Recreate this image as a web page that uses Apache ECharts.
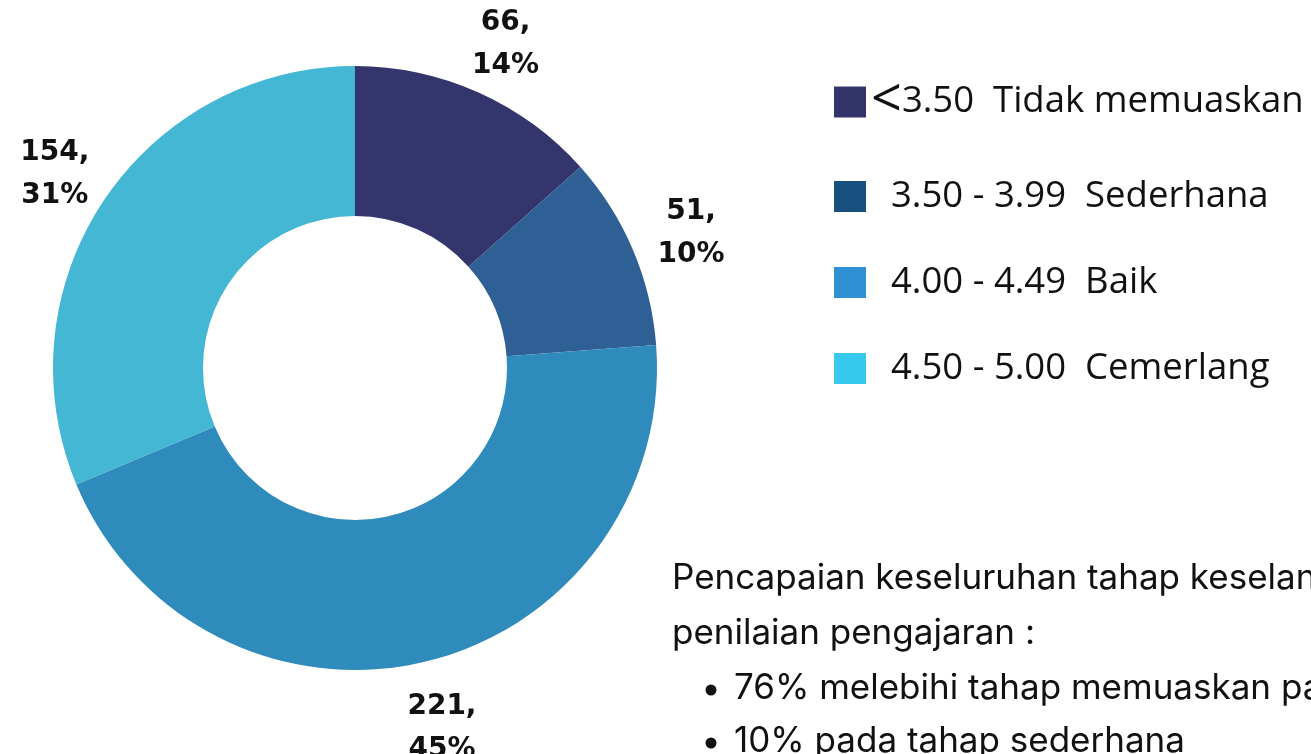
<!doctype html>
<html>
<head>
<meta charset="UTF-8">
<title>Pencapaian penilaian pengajaran</title>
<script src="https://cdn.jsdelivr.net/npm/echarts@6/dist/echarts.min.js"></script>
<style>
  html, body { margin: 0; padding: 0; background: #fff; }
  #chart { width: 1311px; height: 754px; }
</style>
</head>
<body>
<div id="chart"></div>
<script>
// data
var categories = ['<3.50 Tidak memuaskan', '3.50 - 3.99 Sederhana', '4.00 - 4.49 Baik', '4.50 - 5.00 Cemerlang'];
var rangeLabels = ['<3.50', '3.50 - 3.99', '4.00 - 4.49', '4.50 - 5.00'];
var levelLabels = ['Tidak memuaskan', 'Sederhana', 'Baik', 'Cemerlang'];
var counts = [66, 51, 221, 154];
var percents = [14, 10, 45, 31];
var sliceColors = ['#33356c', '#2e5f95', '#2f8bbb', '#43b7d4'];
var legendColors = ['#33346a', '#17507f', '#2e8fd2', '#38c9ee'];
var noteLines = ['Pencapaian keseluruhan tahap keselan', 'penilaian pengajaran :'];
var bulletLines = ['76% melebihi tahap memuaskan pada', '10% pada tahap sederhana'];

var center = [355, 368];

var pieData = [];
var labelData = [];
var legendData = [];
for (var i = 0; i < categories.length; i++) {
  pieData.push({ name: categories[i], value: counts[i], itemStyle: { color: sliceColors[i] } });
  labelData.push({ name: categories[i], value: counts[i] });
  legendData.push({ name: categories[i], itemStyle: { color: legendColors[i] } });
}

var graphics = [];
var noteFont = '35px Inter, Roboto, sans-serif';
for (var j = 0; j < noteLines.length; j++) {
  graphics.push({
    type: 'text', x: 672, y: 578 + j * 55,
    style: { text: noteLines[j], font: noteFont, fill: '#111', verticalAlign: 'middle' }
  });
}
for (var k = 0; k < bulletLines.length; k++) {
  graphics.push({
    type: 'circle', shape: { cx: 711, cy: 690 + k * 53, r: 5.5 },
    style: { fill: '#111' }
  });
  graphics.push({
    type: 'text', x: 734, y: 688 + k * 53,
    style: { text: bulletLines[k], font: noteFont, fill: '#111', verticalAlign: 'middle' }
  });
}

var option = {
  animation: false,
  legend: {
    orient: 'vertical',
    left: 829,
    top: 70,
    itemWidth: 32,
    itemHeight: 31,
    itemGap: 49,
    icon: 'rect',
    data: legendData,
    formatter: function(name) {
      var idx = categories.indexOf(name);
      if (idx === 0) {
        return '{lt|<}{t|3.50  ' + levelLabels[idx] + '}';
      }
      return '{sp|}{t|' + rangeLabels[idx] + '  ' + levelLabels[idx] + '}';
    },
    textStyle: {
      color: '#111',
      fontFamily: '"Open Sans", "Noto Sans", sans-serif',
      fontSize: 36.5,
      lineHeight: 31,
      rich: {
        lt: { fontSize: 54, lineHeight: 31, fontFamily: '"Open Sans", sans-serif', color: '#111' },
        sp: { width: 20, lineHeight: 31 },
        t: { fontSize: 36.5, lineHeight: 31, fontFamily: '"Open Sans", "Noto Sans", sans-serif', color: '#111' }
      }
    }
  },
  graphic: graphics,
  series: [
    {
      type: 'pie',
      center: center,
      radius: [152, 302],
      startAngle: 90,
      avoidLabelOverlap: false,
      silent: true,
      label: { show: false },
      labelLine: { show: false },
      data: pieData
    },
    {
      // transparent ring carrying the value labels
      type: 'pie',
      center: [357, 375],
      radius: [336, 384],
      startAngle: 90,
      avoidLabelOverlap: false,
      silent: true,
      itemStyle: { color: 'rgba(0,0,0,0)' },
      label: {
        show: true,
        position: 'inside',
        color: '#111',
        fontFamily: '"DejaVu Sans", sans-serif',
        fontWeight: 'bold',
        fontSize: 28,
        lineHeight: 43,
        formatter: function(p) {
          return counts[p.dataIndex] + ',\n' + percents[p.dataIndex] + '%';
        }
      },
      labelLine: { show: false },
      data: labelData
    }
  ]
};

var chart = echarts.init(document.getElementById('chart'));
chart.setOption(option);
</script>
</body>
</html>
